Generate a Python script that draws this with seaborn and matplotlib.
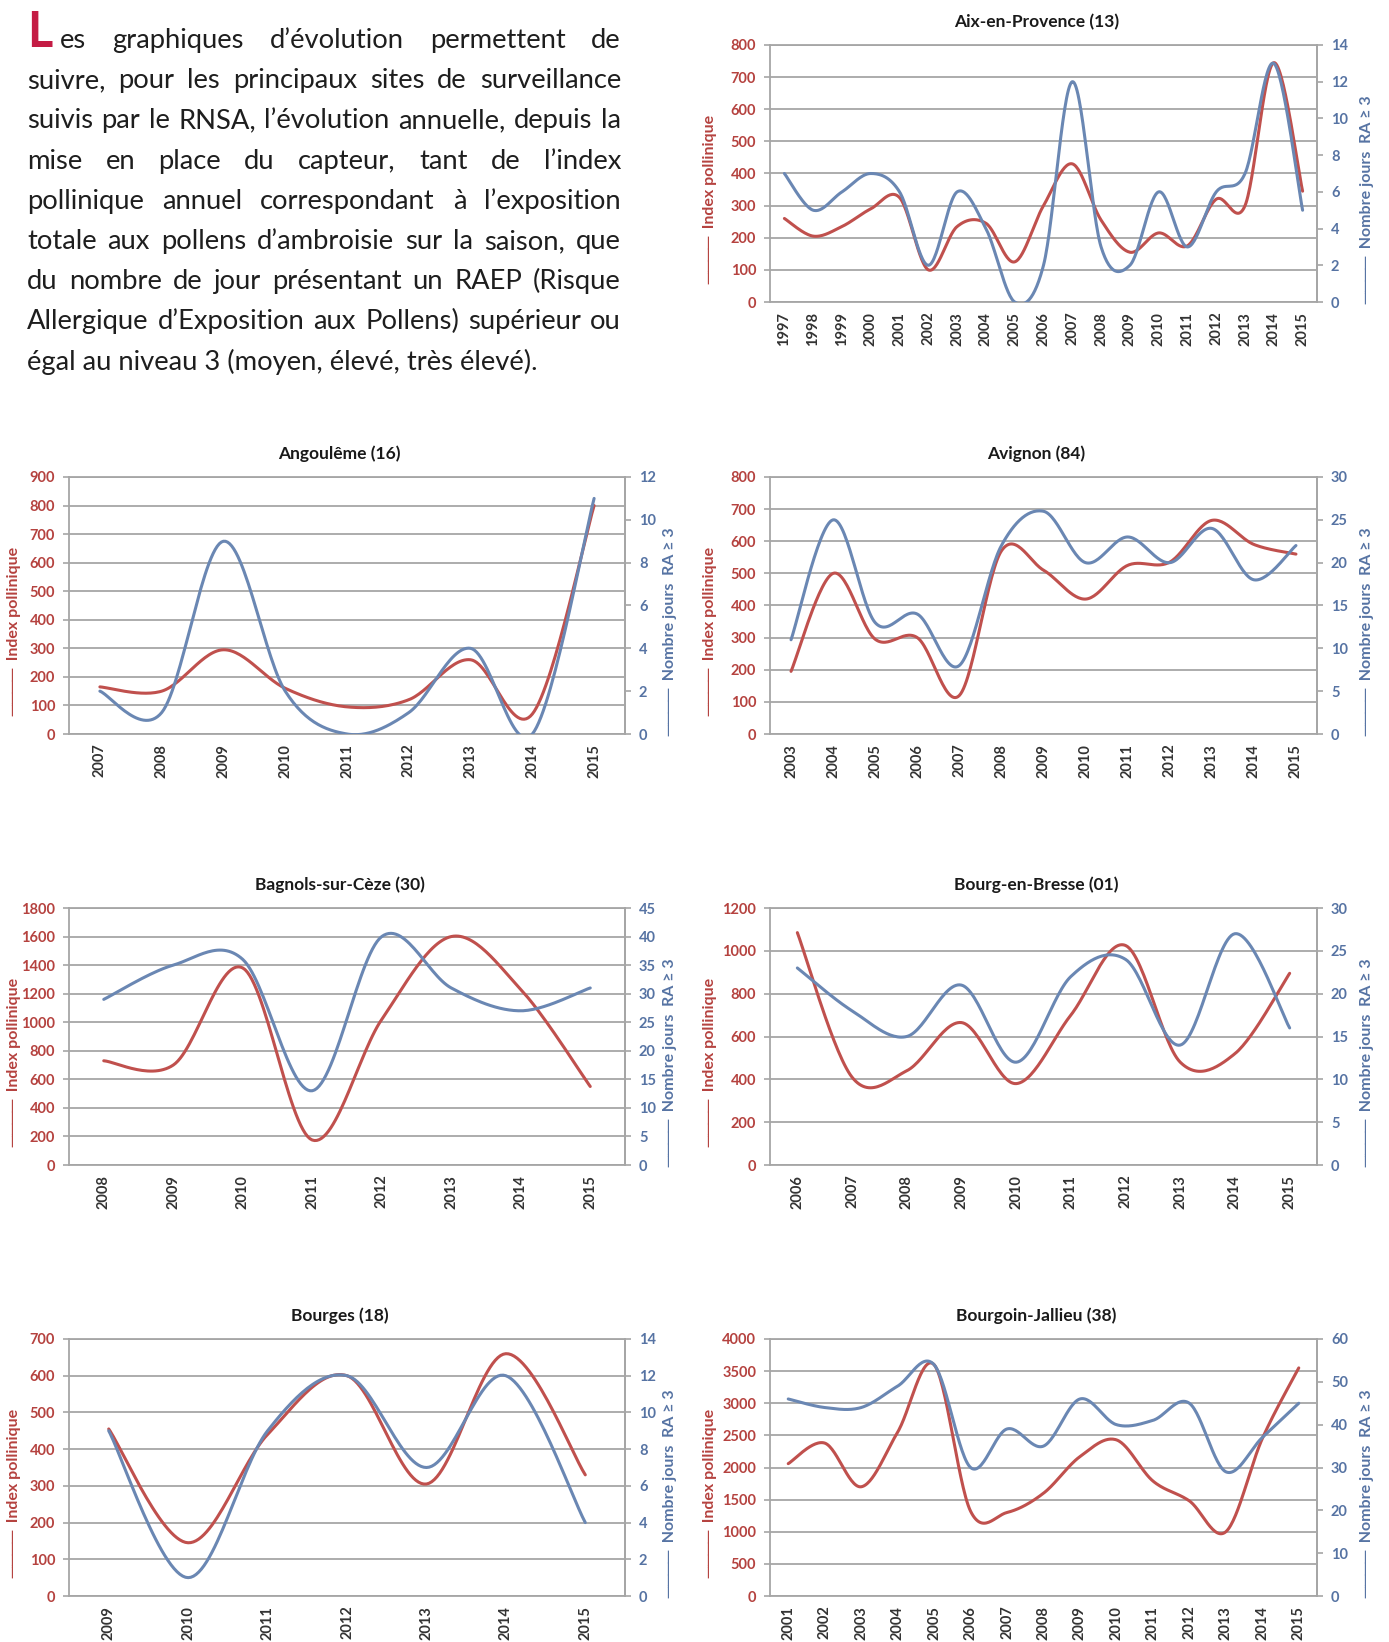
"""Évolution annuelle de l'index pollinique ambroisie et du nombre de jours RAEP >= 3."""

import matplotlib

matplotlib.use("Agg")

import matplotlib.pyplot as plt  # noqa: E402
import numpy as np  # noqa: E402
import seaborn as sns  # noqa: E402

W, H = 1389, 1642
RED = "#c0504d"
BLUE = "#6a87b3"
RED_TXT = "#b5423f"
BLUE_TXT = "#5673a3"
GRID = "#a6a6a6"
FONT = ["Lato", "DejaVu Sans"]

# --- données -------------------------------------------------------------
AIX_YEARS = list(range(1997, 2016))
AIX_INDEX = [260, 205, 235, 290, 325, 100, 235, 245, 125, 300, 430, 255, 155, 215, 175, 320, 300, 745, 345]
AIX_DAYS = [7, 5, 6, 7, 6, 2, 6, 4, 0, 2, 12, 3, 2, 6, 3, 6, 7, 13, 5]

ANG_YEARS = list(range(2007, 2016))
ANG_INDEX = [165, 150, 295, 160, 95, 120, 260, 70, 800]
ANG_DAYS = [2, 1, 9, 2, 0, 1, 4, 0, 11]

AVI_YEARS = list(range(2003, 2016))
AVI_INDEX = [195, 500, 295, 300, 120, 570, 510, 420, 525, 535, 665, 590, 560]
AVI_DAYS = [11, 25, 13, 14, 8, 22, 26, 20, 23, 20, 24, 18, 22]

BAG_YEARS = list(range(2008, 2016))
BAG_INDEX = [730, 700, 1380, 175, 1020, 1600, 1230, 550]
BAG_DAYS = [29, 35, 36, 13, 40, 31, 27, 31]

BOU_YEARS = list(range(2006, 2016))
BOU_INDEX = [1085, 410, 440, 665, 380, 700, 1025, 480, 520, 895]
BOU_DAYS = [23, 18, 15, 21, 12, 22, 24, 14, 27, 16]

BRG_YEARS = list(range(2009, 2016))
BRG_INDEX = [455, 145, 440, 600, 305, 660, 330]
BRG_DAYS = [9, 1, 9, 12, 7, 12, 4]

BJ_YEARS = list(range(2001, 2016))
BJ_INDEX = [2060, 2380, 1700, 2550, 3600, 1320, 1300, 1600, 2170, 2430, 1790, 1480, 1000, 2450, 3550]
BJ_DAYS = [46, 44, 44, 49, 54, 30, 39, 35, 46, 40, 41, 45, 29, 37, 45]

PARA_LINES = [
    "es graphiques d’évolution permettent de",
    "suivre, pour les principaux sites de surveillance",
    "suivis par le RNSA, l’évolution annuelle, depuis la",
    "mise en place du capteur, tant de l’index",
    "pollinique annuel correspondant à l’exposition",
    "totale aux pollens d’ambroisie sur la saison, que",
    "du nombre de jour présentant un RAEP (Risque",
    "Allergique d’Exposition aux Pollens) supérieur ou",
    "égal au niveau 3 (moyen, élevé, très élevé).",
]

# --- mise en page (pixels) --------------------------------------------------
LEFT_X, LEFT_W = 69, 556
RIGHT_X, RIGHT_W = 770, 547
ROW_TOP = [45, 477, 908, 1339]
PLOT_H = 257


def smooth_curve(values):
    """Lissage façon Excel : Catmull-Rom converti en Bézier cubique."""
    pts = np.column_stack([np.arange(len(values), dtype=float), np.asarray(values, dtype=float)])
    ext = np.vstack([pts[0], pts, pts[-1]])
    t = np.linspace(0, 1, 31)[:-1, None]
    out = []
    for i in range(1, len(pts)):
        p0, p1, p2, p3 = ext[i - 1], ext[i], ext[i + 1], ext[i + 2]
        c1 = p1 + (p2 - p0) / 6
        c2 = p2 - (p3 - p1) / 6
        out.append((1 - t) ** 3 * p1 + 3 * (1 - t) ** 2 * t * c1 + 3 * (1 - t) * t ** 2 * c2 + t ** 3 * p2)
    out.append(pts[-1:])
    out = np.vstack(out)
    return out[:, 0], out[:, 1]


def draw_chart(fig, col, row, title, years, index, days, lmax, lstep, rmax, rstep):
    x0, wpx = (LEFT_X, LEFT_W) if col == 0 else (RIGHT_X, RIGHT_W)
    top = ROW_TOP[row]
    ax = fig.add_axes([x0 / W, 1 - (top + PLOT_H) / H, wpx / W, PLOT_H / H])
    ax2 = ax.twinx()
    n = len(years)

    xs, ys = smooth_curve(index)
    sns.lineplot(x=xs, y=ys, ax=ax, color=RED, lw=2.2, sort=False, estimator=None)
    xs, ys = smooth_curve(days)
    sns.lineplot(x=xs, y=ys, ax=ax2, color=BLUE, lw=2.2, sort=False, estimator=None)

    ax.set_xlim(-0.5, n - 0.5)
    ax.set_ylim(0, lmax)
    ax2.set_ylim(0, rmax)
    lt = np.arange(0, lmax + 1, lstep)
    rt = np.arange(0, rmax + 1, rstep)
    ax.set_yticks(lt, labels=[str(v) for v in lt], fontweight="bold")
    ax2.set_yticks(rt, labels=[str(v) for v in rt], fontweight="bold")
    ax.set_xticks(range(n), labels=[str(y) for y in years], rotation=90, fontweight="bold")
    ax.set_xticks(np.arange(-0.5, n), minor=True)
    ax.set_xlabel("")
    ax.set_ylabel("")
    ax2.set_ylabel("")

    ax.tick_params(axis="x", which="major", length=0, pad=7, labelcolor="#333333", labelsize=10.5)
    ax.tick_params(axis="x", which="minor", length=6, color=GRID, width=1.2)
    ax.tick_params(axis="y", length=4, color=GRID, width=1.2, labelcolor=RED_TXT, labelsize=10.5, pad=6)
    ax2.tick_params(axis="y", length=4, color=GRID, width=1.2, labelcolor=BLUE_TXT, labelsize=10.5, pad=6)

    ax.yaxis.grid(True, color=GRID, lw=1.3)
    ax.set_axisbelow(True)
    for a in (ax, ax2):
        for sp in a.spines.values():
            sp.set_color(GRID)
            sp.set_linewidth(1.3)
    ax2.spines["left"].set_visible(False)
    ax2.spines["bottom"].set_visible(False)
    ax2.spines["top"].set_visible(False)

    ax.set_title(title, fontsize=12.5, fontweight="bold", color="#1a1a1a", pad=13, x=0.487)

    off_l = 55 if col == 0 else 60
    off_r = 45 if col == 0 else 50
    ax.text(-off_l / wpx, 0.40, "────  Index pollinique", rotation=90, transform=ax.transAxes,
            ha="center", va="center", color=RED_TXT, fontsize=11.5, fontweight="bold", family=FONT)
    ax.text(1 + off_r / wpx, 0.40, "────  Nombre jours  RA ≥ 3", rotation=90, transform=ax.transAxes,
            ha="center", va="center", color=BLUE_TXT, fontsize=11.5, fontweight="bold", family=FONT)


def draw_paragraph(fig):
    renderer = fig.canvas.get_renderer()
    left, right = 27, 621
    first_base, step = 48, 40.2

    fs = 17.0
    probe = fig.text(0, 0, PARA_LINES[-1], fontsize=fs, family=FONT)
    fs *= 513 / probe.get_window_extent(renderer).width
    probe.remove()

    fig.text(left / W, 1 - (first_base - 1) / H, "L", fontsize=35, fontweight="bold",
             color="#c41c44", family=FONT, va="baseline")

    for i, line in enumerate(PARA_LINES):
        y = 1 - (first_base + i * step) / H
        x_start = 60 if i == 0 else left
        if i == len(PARA_LINES) - 1:
            fig.text(x_start / W, y, line, fontsize=fs, family=FONT, color="#1e1e1e", va="baseline")
            continue
        words = line.split()
        texts = [fig.text(0, y, w, fontsize=fs, family=FONT, color="#1e1e1e", va="baseline") for w in words]
        widths = [t.get_window_extent(renderer).width for t in texts]
        gap = (right - x_start - sum(widths)) / (len(words) - 1)
        x = x_start
        for t, wd in zip(texts, widths):
            t.set_x(x / W)
            x += wd + gap


sns.set_style("white")
plt.rcParams["font.family"] = FONT

fig = plt.figure(figsize=(W / 100, H / 100), dpi=100)
fig.patch.set_facecolor("white")

draw_chart(fig, 1, 0, "Aix-en-Provence (13)", AIX_YEARS, AIX_INDEX, AIX_DAYS, 800, 100, 14, 2)
draw_chart(fig, 0, 1, "Angoulême (16)", ANG_YEARS, ANG_INDEX, ANG_DAYS, 900, 100, 12, 2)
draw_chart(fig, 1, 1, "Avignon (84)", AVI_YEARS, AVI_INDEX, AVI_DAYS, 800, 100, 30, 5)
draw_chart(fig, 0, 2, "Bagnols-sur-Cèze (30)", BAG_YEARS, BAG_INDEX, BAG_DAYS, 1800, 200, 45, 5)
draw_chart(fig, 1, 2, "Bourg-en-Bresse (01)", BOU_YEARS, BOU_INDEX, BOU_DAYS, 1200, 200, 30, 5)
draw_chart(fig, 0, 3, "Bourges (18)", BRG_YEARS, BRG_INDEX, BRG_DAYS, 700, 100, 14, 2)
draw_chart(fig, 1, 3, "Bourgoin-Jallieu (38)", BJ_YEARS, BJ_INDEX, BJ_DAYS, 4000, 500, 60, 10)

draw_paragraph(fig)

fig.savefig("out.png", dpi=100, facecolor="white")
